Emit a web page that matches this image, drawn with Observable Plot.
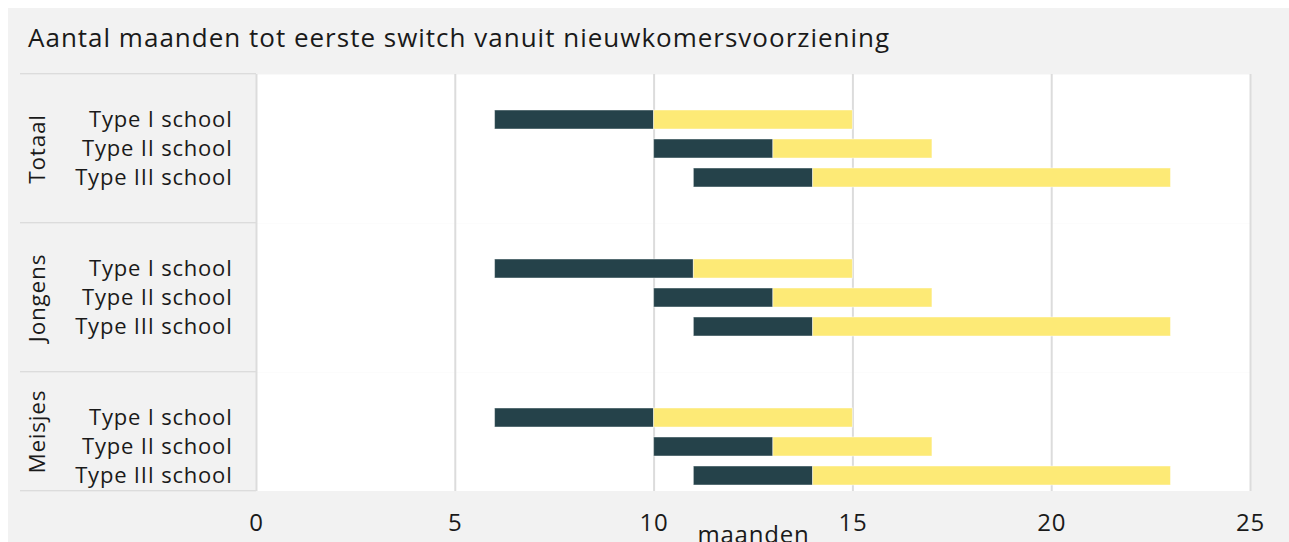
<!DOCTYPE html>
<html><head><meta charset="utf-8">
<script src="https://cdn.jsdelivr.net/npm/d3@7"></script>
<script src="https://cdn.jsdelivr.net/npm/@observablehq/plot@0.6"></script>
<style>
html,body{margin:0;padding:0;background:#fff;}
body{padding:8px 0 0 8px;overflow:hidden;}
#wrap{background:#f2f2f2;width:1281px;height:560px;}
#title{font-family:"Open Sans",sans-serif;font-size:26px;letter-spacing:1px;line-height:30px;padding:14px 0 0 20px;height:31px;color:#1a1a1a;white-space:nowrap;}
</style></head><body>
<div id="wrap"><div id="title">Aantal maanden tot eerste switch vanuit nieuwkomersvoorziening</div><div id="chart"></div></div>
<script>
const groups = ["Totaal", "Jongens", "Meisjes"];
const schoolTypes = ["Type I school", "Type II school", "Type III school"];
const startMonths  = [6, 10, 11,  6, 10, 11,  6, 10, 11];
const medianMonths = [10, 13, 14, 11, 13, 14, 10, 13, 14];
const endMonths    = [15, 17, 23, 15, 17, 23, 15, 17, 23];
const xTicks = [0, 5, 10, 15, 20, 25];
const xLabel = "maanden";

const rows = groups.flatMap((g, gi) => schoolTypes.map((t, ti) => ({
  group: g, type: t,
  start: startMonths[gi * 3 + ti],
  median: medianMonths[gi * 3 + ti],
  end: endMonths[gi * 3 + ti]
})));

// layout
const W = 1281, H = 509, mT = 20, mB = 40, mL = 248, mR = 39;
const facetH = (H - mT - mB) / groups.length;
const visibleLast = 119;
const bg = "#f2f2f2", lineC = "#dcdcdc", dark = "#25424a", yellow = "#fdea76";
const last = groups[groups.length - 1];

const chart = Plot.plot({
  width: W, height: H,
  marginTop: mT, marginBottom: mB, marginLeft: mL, marginRight: mR,
  style: {background: "transparent", fontFamily: "'Open Sans', sans-serif", color: "#1a1a1a",
    overflow: "visible", letterSpacing: "0.8px"},
  x: {domain: [0, 25]},
  y: {domain: schoolTypes, paddingInner: 0, paddingOuter: (facetH / 30 - 3) / 2},
  fy: {domain: groups, padding: 0, axis: null},
  marks: [
    Plot.frame({fill: "white"}),
    Plot.gridX({ticks: xTicks, stroke: lineC, strokeWidth: 2, strokeOpacity: 1}),
    Plot.barX(rows, {fy: "group", y: "type", x1: "start", x2: "median", fill: dark,
      insetTop: 5, insetBottom: 5, stroke: "white", strokeOpacity: 0.45, strokeWidth: 1}),
    Plot.barX(rows, {fy: "group", y: "type", x1: "median", x2: "end", fill: yellow,
      insetTop: 5, insetBottom: 5, stroke: "white", strokeOpacity: 0.45, strokeWidth: 1}),
    Plot.rect([last], {fy: d => d, fill: bg, insetTop: visibleLast, insetLeft: -2, insetRight: -2, insetBottom: -2}),
    Plot.rect(groups, {fy: d => d, fill: lineC, insetLeft: -(mL - 12), insetRight: W - mR - mL,
      insetTop: -1, insetBottom: facetH - 1}),
    Plot.rect([last], {fy: d => d, fill: lineC, insetLeft: -(mL - 12), insetRight: W - mR - mL,
      insetTop: visibleLast - 1, insetBottom: facetH - visibleLast - 1}),
    Plot.axisY({tickSize: 0, tickPadding: 24, fontSize: 22, label: null}),
    Plot.axisX({ticks: xTicks, tickSize: 0, tickPadding: -8, fontSize: 24, label: xLabel,
      labelAnchor: "center", labelOffset: 21, labelArrow: "none"}),
    Plot.text(groups.filter(g => g !== last), {fy: d => d, text: d => d, frameAnchor: "left",
      textAnchor: "middle", rotate: -90, dx: -218.5, fontSize: 22.5}),
    Plot.text([last], {fy: d => d, text: d => d, frameAnchor: "left", textAnchor: "middle",
      rotate: -90, dx: -218.5, dy: -(facetH - visibleLast) / 2, fontSize: 22.5})
  ]
});
document.getElementById("chart").appendChild(chart);
</script>
</body></html>
